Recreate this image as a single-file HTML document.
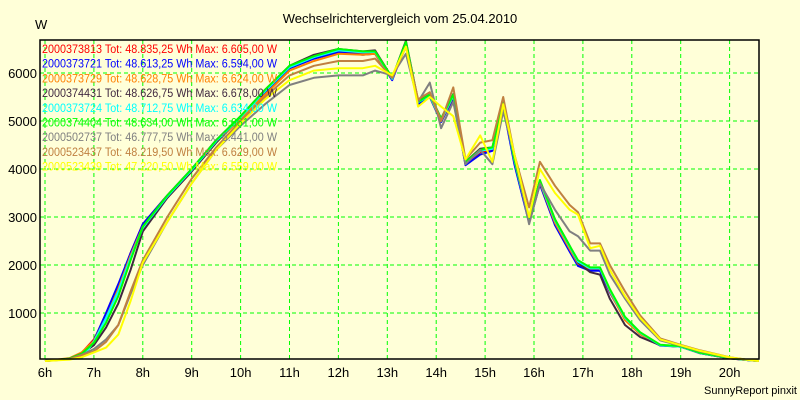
<!DOCTYPE html>
<html><head><meta charset="utf-8"><style>
body{margin:0;background:#ffffd8;}
svg{display:block;font-family:"Liberation Sans",sans-serif;}
</style></head><body>
<svg id="chart" width="800" height="400" viewBox="0 0 800 400">
<rect x="0" y="0" width="800" height="400" fill="#ffffd8"/>
<text x="400" y="23" text-anchor="middle" font-size="13">Wechselrichtervergleich vom 25.04.2010</text>
<text x="35" y="29" font-size="13">W</text>
<text x="797" y="394" text-anchor="end" font-size="11">SunnyReport pinxit</text>
<g id="grid"></g><g id="series"></g><g id="legend"></g><g id="axes"></g>
</svg>
<script>
const times=[6,6.5,6.75,7,7.25,7.5,7.75,8,8.5,9,9.5,10,10.5,11,11.5,12,12.5,12.75,13.1,13.38,13.63,13.87,14.1,14.35,14.6,14.9,15.15,15.37,15.6,15.9,16.12,16.43,16.73,16.9,17.15,17.35,17.55,17.86,18.17,18.58,18.99,19.4,20,20.4,20.6];
const sRed=[0,50,170,450,950,1550,2250,2850,3450,4000,4600,5100,5600,6100,6300,6450,6400,6420,5880,6600,5380,5520,5000,5500,4100,4350,4400,5350,4150,2900,3700,2850,2300,2000,1900,1900,1450,880,570,330,300,160,55,15,0];
const sBlue=[0,50,160,430,1000,1600,2250,2850,3450,4000,4600,5100,5600,6100,6300,6430,6380,6400,5850,6590,5350,5500,4980,5480,4080,4300,4380,5300,4100,2880,3680,2830,2280,1980,1880,1880,1430,870,560,320,300,160,55,15,0];
const sOrange=[0,60,180,420,900,1500,2200,2800,3400,3950,4550,5050,5550,6050,6250,6400,6380,6400,5880,6620,5400,5520,5000,5520,4120,4380,4420,5380,4180,2930,3720,2880,2330,2030,1930,1930,1450,850,560,330,300,165,60,15,0];
const sDark=[0,50,150,330,700,1200,1900,2700,3400,3950,4550,5100,5650,6150,6380,6500,6450,6470,5900,6670,5420,5550,5050,5560,4150,4420,4450,5400,4200,2950,3750,2950,2400,2050,1850,1800,1300,750,500,330,300,165,60,15,0];
const sCyan=[0,40,60,400,900,1450,2150,2780,3430,3980,4580,5080,5620,6120,6330,6470,6430,6440,5880,6630,5390,5530,5020,5530,4120,4380,4420,5380,4180,2930,3740,2930,2380,2070,1930,1930,1480,900,590,330,300,165,60,15,0];
const sGreen=[0,50,150,380,800,1350,2100,2800,3450,4000,4600,5100,5650,6150,6350,6500,6450,6450,5900,6650,5400,5550,5050,5550,4150,4400,4450,5400,4200,2950,3770,2950,2400,2100,1950,1950,1500,920,600,340,310,170,60,20,0];
const sGray=[0,40,130,250,450,750,1400,2000,2900,3700,4400,4900,5350,5750,5900,5950,5950,6050,5950,6400,5400,5800,4850,5400,4100,4400,4100,5200,4300,2850,3700,3150,2700,2600,2300,2300,1800,1300,850,430,320,200,70,20,0];
const sBrown=[0,40,120,200,400,750,1450,2100,3000,3800,4450,5000,5500,5950,6150,6250,6250,6300,5900,6550,5450,5600,5000,5700,4200,4550,4600,5500,4300,3200,4150,3650,3250,3100,2450,2450,2000,1450,950,470,340,220,80,20,0];
const sYellow=[0,30,80,180,280,550,1250,2050,2900,3700,4400,4950,5450,5850,6050,6100,6100,6150,5950,6550,5300,5500,5300,5100,4200,4700,4150,5350,4300,3000,4000,3500,3150,3050,2350,2400,1900,1350,900,450,330,210,75,20,0];
const seriesNames=["2000373813","2000373721","2000373729","2000374431","2000373724","2000374404","2000502737","2000523437","2000523439"];
const totals=["48.835,25","48.613,25","48.628,75","48.626,75","48.712,75","48.634,00","46.777,75","48.219,50","47.220,50"];
const maxima=["6.605,00","6.594,00","6.624,00","6.678,00","6.634,00","6.661,00","6.441,00","6.629,00","6.559,00"];
const yTicks=[1000,2000,3000,4000,5000,6000];
const xTicks=[6,7,8,9,10,11,12,13,14,15,16,17,18,19,20];
const allSeries=[sRed,sBlue,sOrange,sDark,sCyan,sGreen,sGray,sBrown,sYellow];
const colors=["#ff0000","#0000ff","#ff8000","#402840","#00ffff","#00ff00","#808080","#c08040","#ffff00"];
const NS="http://www.w3.org/2000/svg";
const L=40,R=759,T=40,B=359;
function xs(h){return 45+(h-6)*48.9;}
function ys(v){return 361-v*0.048;}
function mk(tag,attrs,parent){const e=document.createElementNS(NS,tag);for(const k in attrs)e.setAttribute(k,attrs[k]);parent.appendChild(e);return e;}
const grid=document.getElementById('grid'),ser=document.getElementById('series'),leg=document.getElementById('legend'),axes=document.getElementById('axes');
mk('rect',{x:L,y:T,width:R-L,height:B-T,fill:'#ffffd8'},grid);
yTicks.forEach(v=>{
  const y=ys(v);
  const g=mk('line',{x1:L,x2:R,y1:y,y2:y,stroke:'#00ff00','stroke-dasharray':'4,3','stroke-width':1},grid);
  
  
  const t=mk('text',{x:L-3,y:y+5,'text-anchor':'end','font-size':13},axes);
  
  
  t.textContent=v;
});
xTicks.forEach(h=>{
  const x=xs(h);
  const g=mk('line',{x1:x,x2:x,y1:T,y2:B,stroke:'#00ff00','stroke-dasharray':'4,3','stroke-width':1},grid);
  
  
  const t=mk('text',{x:x,y:377,'text-anchor':'middle','font-size':13},axes);
  
  
  t.textContent=h+'h';
});
allSeries.forEach((s,i)=>{
  const pts=s.map((v,j)=>xs(times[j]).toFixed(1)+','+ys(v).toFixed(1)).join(' ');
  const p=mk('polyline',{points:pts,fill:'none',stroke:colors[i],'stroke-width':2,'stroke-linejoin':'round'},ser);
  
  
});
seriesNames.forEach((n,i)=>{
  const t=mk('text',{x:42,y:53+i*14.7,'font-size':11.5,fill:colors[i],textLength:235,lengthAdjust:'spacingAndGlyphs'},leg);
  
  
  t.textContent=n+' Tot: '+totals[i]+' Wh Max: '+maxima[i]+' W';
});
const fr=mk('rect',{x:L,y:T,width:R-L,height:B-T,fill:'none',stroke:'#000','stroke-width':1.5},axes);


</script>
</body></html>
